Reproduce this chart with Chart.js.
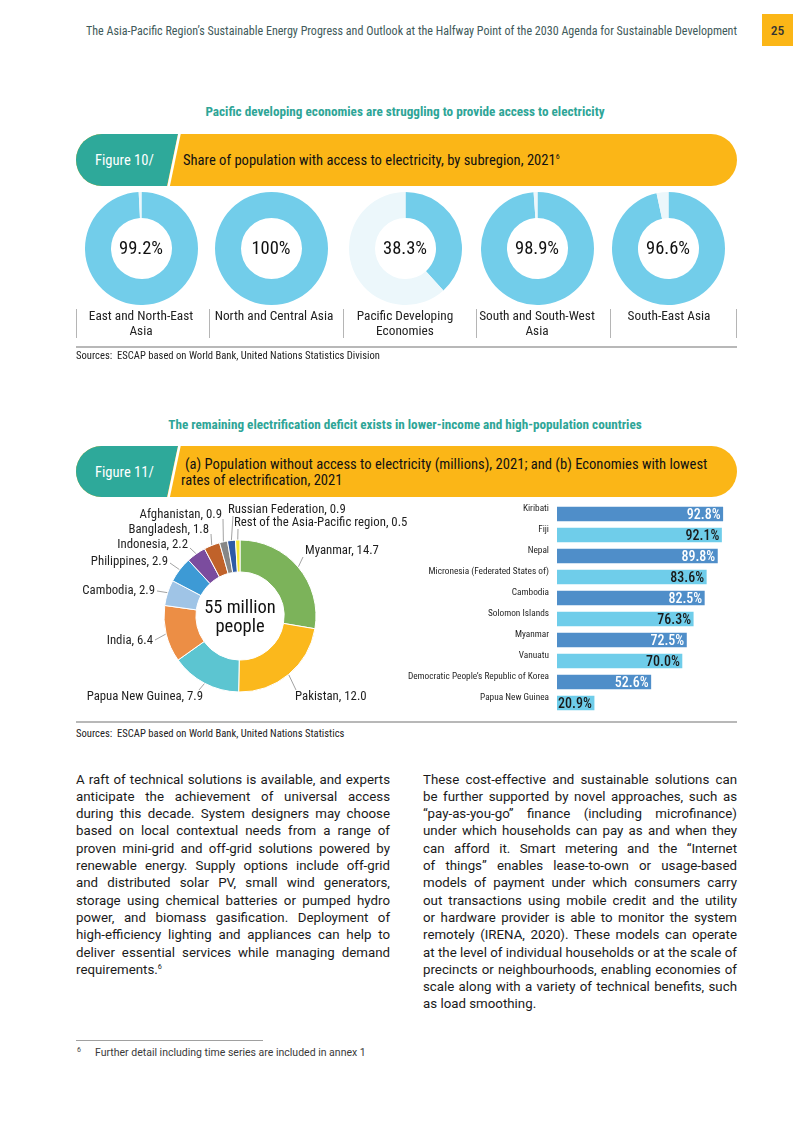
<!DOCTYPE html>
<html>
<head>
<meta charset="utf-8">
<script src="https://cdn.jsdelivr.net/npm/chart.js@4.4.1/dist/chart.umd.min.js"></script>
<style>
  html,body{margin:0;padding:0;background:#fff;}
  body{width:793px;height:1122px;position:relative;overflow:hidden;
       font-family:'Roboto Condensed','Liberation Sans Narrow','DejaVu Sans Condensed',Roboto,sans-serif;color:#1f1f1f;}
  .abs{position:absolute;white-space:nowrap;}
  .cond{font-family:'Roboto Condensed','Liberation Sans Narrow','DejaVu Sans Condensed',Roboto,sans-serif;}
  .body{font-family:Roboto,'Noto Sans',sans-serif;font-size:13.3px;color:#1a1a1a;}
  .jl{position:absolute;width:314px;height:17.3px;line-height:17.3px;text-align:justify;text-align-last:justify;white-space:nowrap;}
  .ll{position:absolute;width:314px;height:17.3px;line-height:17.3px;text-align:left;white-space:nowrap;}
  sup{font-size:0.55em;line-height:0;vertical-align:0.75em;}
  canvas{position:absolute;}
  .ctr{position:absolute;text-align:center;color:#111;}
  .sep{position:absolute;width:1px;background:#b5b5b5;}
  .rule{position:absolute;height:1.5px;background:#b8b8b8;}
</style>
</head>
<body>

<!-- header -->
<div class="abs cond" style="right:56px;top:23px;line-height:16px;font-size:12.05px;color:#3f5a5a;">The Asia-Pacific Region’s Sustainable Energy Progress and Outlook at the Halfway Point of the 2030 Agenda for Sustainable Development</div>
<div class="abs cond" style="left:762px;top:14px;width:31px;height:32px;background:#fbb617;line-height:32px;text-align:center;font-size:13.5px;font-weight:500;color:#333;">25</div>

<!-- Figure 10 -->
<div class="abs cond" style="left:0;width:810px;text-align:center;top:104px;line-height:16px;font-size:13.2px;font-weight:bold;color:#2ea597;">Pacific developing economies are struggling to provide access to electricity</div>

<svg class="abs" style="left:76px;top:134px;" width="661" height="52">
  <defs><clipPath id="cp1"><rect x="0" y="0" width="661" height="52" rx="26" ry="26"/></clipPath></defs>
  <g clip-path="url(#cp1)">
    <rect x="0" y="0" width="661" height="52" fill="#fbb617"/>
    <polygon points="0,0 102,0 91,52 0,52" fill="#2ea99a"/>
    <line x1="103.6" y1="-1" x2="92.4" y2="53" stroke="#fff" stroke-width="2.6"/>
  </g>
</svg>
<div class="abs cond" style="left:95px;top:151px;line-height:18px;font-size:14.6px;color:#fff;">Figure 10/</div>
<div class="abs cond" style="left:183px;top:151px;line-height:18px;font-size:14.6px;color:#111;">Share of population with access to electricity, by subregion, 2021<sup>6</sup></div>

<div id="donutRow"></div>

<div class="sep" style="left:76px;top:309px;height:29px;"></div>
<div class="sep" style="left:209px;top:309px;height:29px;"></div>
<div class="sep" style="left:343px;top:309px;height:29px;"></div>
<div class="sep" style="left:476px;top:309px;height:29px;"></div>
<div class="sep" style="left:610px;top:309px;height:29px;"></div>
<div class="sep" style="left:736px;top:309px;height:29px;"></div>
<div class="rule" style="left:76px;top:346px;width:661px;"></div>
<div class="abs cond" style="left:76px;top:349px;line-height:14px;font-size:10.6px;color:#222;">Sources:&nbsp; ESCAP based on World Bank, United Nations Statistics Division</div>

<!-- Figure 11 -->
<div class="abs cond" style="left:0;width:810px;text-align:center;top:417px;line-height:16px;font-size:13.2px;font-weight:bold;color:#2ea597;">The remaining electrification deficit exists in lower-income and high-population countries</div>

<svg class="abs" style="left:76px;top:446px;" width="661" height="51">
  <defs><clipPath id="cp2"><rect x="0" y="0" width="661" height="51" rx="25.5" ry="25.5"/></clipPath></defs>
  <g clip-path="url(#cp2)">
    <rect x="0" y="0" width="661" height="51" fill="#fbb617"/>
    <polygon points="0,0 102,0 91,51 0,51" fill="#2ea99a"/>
    <line x1="103.6" y1="-1" x2="92.4" y2="52" stroke="#fff" stroke-width="2.6"/>
  </g>
</svg>
<div class="abs cond" style="left:95px;top:463px;line-height:18px;font-size:14.6px;color:#fff;">Figure 11/</div>
<div class="abs cond" style="left:185px;top:456px;line-height:17px;font-size:14.6px;color:#111;">(a) Population without access to electricity (millions), 2021; and (b) Economies with lowest</div>
<div class="abs cond" style="left:181px;top:472px;line-height:17px;font-size:14.6px;color:#111;">rates of electrification, 2021</div>

<canvas id="pieCanvas" width="344" height="212" style="left:76px;top:500px;width:344px;height:212px;"></canvas>

<canvas id="barCanvas" width="345" height="216" style="left:400px;top:500px;width:345px;height:216px;"></canvas>

<div class="rule" style="left:76px;top:721px;width:661px;"></div>
<div class="abs cond" style="left:76px;top:727px;line-height:14px;font-size:10.6px;color:#222;">Sources:&nbsp; ESCAP based on World Bank, United Nations Statistics</div>

<!-- body text -->
<div id="leftCol" class="body"></div>
<div id="rightCol" class="body"></div>

<!-- footnote -->
<div class="abs" style="left:76px;top:1040px;width:187px;height:0.8px;background:#a0a0a0;"></div>
<div class="abs" style="left:77px;top:1045px;line-height:10px;font-size:7px;color:#444;font-family:Roboto,sans-serif;">6</div>
<div class="abs" style="left:95px;top:1045px;line-height:15px;font-size:10.5px;color:#3a3a3a;font-family:Roboto,sans-serif;">Further detail including time series are included in annex 1</div>

<script>
// ---------------- data ----------------
const regionNames = ['East and North-East Asia', 'North and Central Asia', 'Pacific Developing Economies', 'South and South-West Asia', 'South-East Asia'];
const regionLabelLines = [['East and North-East', 'Asia'], ['North and Central Asia'], ['Pacific Developing', 'Economies'], ['South and South-West', 'Asia'], ['South-East Asia']];
const accessShare = [99.2, 100, 38.3, 98.9, 96.6];
const noAccessShare = [0.8, 0, 61.7, 1.1, 3.4];
const accessLabels = ['99.2%', '100%', '38.3%', '98.9%', '96.6%'];

const countries = ['Myanmar', 'Pakistan', 'Papua New Guinea', 'India', 'Cambodia', 'Philippines', 'Indonesia', 'Bangladesh', 'Afghanistan', 'Russian Federation', 'Rest of the Asia-Pacific region'];
const populationNoAccess = [14.7, 12.0, 7.9, 6.4, 2.9, 2.9, 2.2, 1.8, 0.9, 0.9, 0.5];
const totalLabel = ['55 million', 'people'];

const lowestEconomies = ['Kiribati', 'Fiji', 'Nepal', 'Micronesia (Federated States of)', 'Cambodia', 'Solomon Islands', 'Myanmar', 'Vanuatu', 'Democratic People’s Republic of Korea', 'Papua New Guinea'];
const electrificationRate = [92.8, 92.1, 89.8, 83.6, 82.5, 76.3, 72.5, 70.0, 52.6, 20.9];

const leftParagraph = [
  'A raft of technical solutions is available, and experts',
  'anticipate the achievement of universal access',
  'during this decade. System designers may choose',
  'based on local contextual needs from a range of',
  'proven mini-grid and off-grid solutions powered by',
  'renewable energy. Supply options include off-grid',
  'and distributed solar PV, small wind generators,',
  'storage using chemical batteries or pumped hydro',
  'power, and biomass gasification. Deployment of',
  'high-efficiency lighting and appliances can help to',
  'deliver essential services while managing demand',
  'requirements.<sup>6</sup>'
];
const rightParagraph = [
  'These cost-effective and sustainable solutions can',
  'be further supported by novel approaches, such as',
  '“pay-as-you-go” finance (including microfinance)',
  'under which households can pay as and when they',
  'can afford it. Smart metering and the “Internet',
  'of things” enables lease-to-own or usage-based',
  'models of payment under which consumers carry',
  'out transactions using mobile credit and the utility',
  'or hardware provider is able to monitor the system',
  'remotely (IRENA, 2020). These models can operate',
  'at the level of individual households or at the scale of',
  'precincts or neighbourhoods, enabling economies of',
  'scale along with a variety of technical benefits, such',
  'as load smoothing.'
];

// ---------------- styles / layout ----------------
const COND = "'Roboto Condensed','Liberation Sans Narrow','DejaVu Sans Condensed',Roboto,sans-serif";
const ACCESS_COLOR = '#72cdea';
const NOACCESS_COLOR = '#ecf7fb';
const pieColors = ['#7cb35a', '#fbb81c', '#5cc5d1', '#ec8e45', '#9fc4e6', '#3d9ad5', '#7b4c9e', '#c0622a', '#878787', '#2d5aa6', '#f3e635'];
const barColors = ['#4f8ec9', '#6fcdea'];
const barTextColors = ['#ffffff', '#1a1a1a'];

const donutCentersX = [141, 271, 405, 537, 668];
const donutCY = 248, donutR = 56.5;
const labelCentersX = [141, 274, 405, 537, 669];

// body text
function renderCol(id, lines, left, top) {
  const el = document.getElementById(id);
  lines.forEach((t, i) => {
    const d = document.createElement('div');
    d.className = (i === lines.length - 1) ? 'll' : 'jl';
    d.style.left = left + 'px';
    d.style.top = (top + i * 17.3) + 'px';
    d.innerHTML = t;
    el.appendChild(d);
  });
}
renderCol('leftCol', leftParagraph, 76, 770.5);
renderCol('rightCol', rightParagraph, 423, 770.5);

// ---------------- Figure 10 donuts ----------------
const row = document.getElementById('donutRow');
regionNames.forEach((name, i) => {
  const size = donutR * 2;
  const c = document.createElement('canvas');
  c.width = size; c.height = size;
  c.style.left = (donutCentersX[i] - donutR) + 'px';
  c.style.top = (donutCY - donutR) + 'px';
  c.style.width = size + 'px'; c.style.height = size + 'px';
  row.appendChild(c);
  new Chart(c, {
    type: 'doughnut',
    data: { labels: ['With access', 'Without access'],
      datasets: [{ data: [accessShare[i], noAccessShare[i]], backgroundColor: [ACCESS_COLOR, NOACCESS_COLOR], borderWidth: 0, hoverOffset: 0 }] },
    options: { responsive: false, animation: false, cutout: '54%',
      plugins: { legend: { display: false }, tooltip: { enabled: false } } }
  });
  const t = document.createElement('div');
  t.className = 'ctr cond';
  t.style.left = (donutCentersX[i] - 40) + 'px';
  t.style.width = '80px';
  t.style.top = (donutCY - 12) + 'px';
  t.style.lineHeight = '24px';
  t.style.fontSize = '18.5px';
  t.textContent = accessLabels[i];
  row.appendChild(t);

  const l = document.createElement('div');
  l.className = 'ctr cond';
  l.style.left = (labelCentersX[i] - 70) + 'px';
  l.style.width = '140px';
  l.style.top = '307.5px';
  l.style.lineHeight = '15px';
  l.style.fontSize = '13.3px';
  l.style.color = '#222';
  l.innerHTML = regionLabelLines[i].join('<br>');
  row.appendChild(l);
});

// ---------------- Figure 11a doughnut ----------------
const PIE_LEFT = 76, PIE_TOP = 500;
// label anchor positions (page coordinates) and leader-line start points
const pieLabelLayout = [
  { x: 305, y: 551, align: 'left',  lx: 303, ly: 557 },
  { x: 295, y: 697, align: 'left',  lx: 296, ly: 690 },
  { x: 203, y: 697, align: 'right', lx: 199, ly: 690 },
  { x: 153, y: 641, align: 'right', lx: 155, ly: 640 },
  { x: 155, y: 591, align: 'right', lx: 157, ly: 591 },
  { x: 168, y: 562, align: 'right', lx: 170, ly: 563 },
  { x: 188, y: 545, align: 'right', lx: 190, ly: 548 },
  { x: 209, y: 530, align: 'right', lx: 211, ly: 534 },
  { x: 222, y: 515, align: 'right', lx: 223, ly: 519 },
  { x: 228, y: 510, align: 'left',  lx: 233, ly: 516 },
  { x: 234, y: 523, align: 'left',  lx: 238, ly: 529 }
];

const pieLabelsPlugin = {
  id: 'pieLabels',
  afterDatasetsDraw(chart) {
    const ctx = chart.ctx;
    const meta = chart.getDatasetMeta(0);
    ctx.save();
    meta.data.forEach((arc, i) => {
      const p = arc.getProps(['x', 'y', 'startAngle', 'endAngle', 'outerRadius'], true);
      const mid = (p.startAngle + p.endAngle) / 2;
      const ax = p.x + Math.cos(mid) * (p.outerRadius + 0.5);
      const ay = p.y + Math.sin(mid) * (p.outerRadius + 0.5);
      const L = pieLabelLayout[i];
      ctx.strokeStyle = '#8a8a8a';
      ctx.lineWidth = 0.8;
      ctx.beginPath();
      ctx.moveTo(L.lx - PIE_LEFT, L.ly - PIE_TOP);
      ctx.lineTo(ax, ay);
      ctx.stroke();
      ctx.fillStyle = '#1f1f1f';
      ctx.font = "12.8px " + COND;
      ctx.textAlign = L.align;
      ctx.textBaseline = 'middle';
      ctx.fillText(countries[i] + ', ' + populationNoAccess[i].toFixed(1), L.x - PIE_LEFT, L.y - PIE_TOP);
    });
    // centre text
    ctx.fillStyle = '#111';
    ctx.font = "18.5px " + COND;
    ctx.textAlign = 'center';
    const cx = meta.data[0].x, cy = meta.data[0].y;
    ctx.fillText(totalLabel[0], cx, cy - 8);
    ctx.fillText(totalLabel[1], cx, cy + 11);
    ctx.restore();
  }
};

new Chart(document.getElementById('pieCanvas'), {
  type: 'doughnut',
  data: { labels: countries,
    datasets: [{ data: populationNoAccess, backgroundColor: pieColors, borderColor: '#ffffff', borderWidth: 1, hoverOffset: 0 }] },
  options: {
    responsive: false, animation: false, cutout: '58%',
    layout: { padding: { left: 87.5, right: 103.5, top: 39.5, bottom: 19.5 } },
    plugins: { legend: { display: false }, tooltip: { enabled: false } }
  },
  plugins: [pieLabelsPlugin]
});

// ---------------- Figure 11b bars ----------------
const barValuePlugin = {
  id: 'barValues',
  afterDatasetsDraw(chart) {
    const ctx = chart.ctx;
    const meta = chart.getDatasetMeta(0);
    ctx.save();
    ctx.font = "500 14px " + COND;
    ctx.textAlign = 'right';
    ctx.textBaseline = 'middle';
    meta.data.forEach((bar, i) => {
      ctx.fillStyle = barTextColors[i % 2];
      ctx.fillText(electrificationRate[i].toFixed(1) + '%', bar.x - 2.5, bar.y + 1);
    });
    ctx.restore();
  }
};

new Chart(document.getElementById('barCanvas'), {
  type: 'bar',
  data: { labels: lowestEconomies,
    datasets: [{ data: electrificationRate,
      backgroundColor: ctx => barColors[ctx.dataIndex % 2],
      barPercentage: 0.68, categoryPercentage: 1.0, borderWidth: 0 }] },
  options: {
    indexAxis: 'y', responsive: false, animation: false,
    layout: { padding: { left: 0, right: 9, top: 3.5, bottom: 2.5 } },
    scales: {
      x: { display: false, min: 0, max: 100 },
      y: {
        grid: { display: false, drawTicks: false }, border: { display: false },
        ticks: { color: '#1f1f1f', padding: 8, labelOffset: -5, font: { family: COND, size: 9.3 } },
        afterFit(scale) { scale.width = 157; scale.paddingTop = 0; scale.paddingBottom = 0; }
      }
    },
    plugins: { legend: { display: false }, tooltip: { enabled: false } }
  },
  plugins: [barValuePlugin]
});
</script>
</body>
</html>
